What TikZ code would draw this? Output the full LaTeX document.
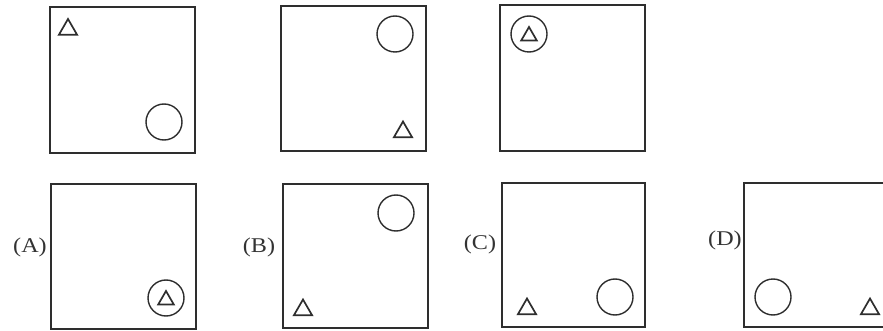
\documentclass[tikz,border=0pt]{standalone}
\usepackage{fontspec}
\setmainfont{Liberation Serif}
\usetikzlibrary{shapes.geometric}
\definecolor{ink}{HTML}{2E2E2E}
\definecolor{txt}{HTML}{333333}
\tikzset{
  panel/.style={draw=ink, line width=1.8pt},
  ring/.style={circle, draw=ink, line width=1.4pt, minimum size=36pt, inner sep=0pt},
  tri/.style={regular polygon, regular polygon sides=3, draw=ink, line width=1.7pt, minimum size=21pt, inner sep=0pt},
  smalltri/.style={regular polygon, regular polygon sides=3, draw=ink, line width=1.7pt, minimum size=18pt, inner sep=0pt},
  lab/.style={text=txt, font=\fontsize{21}{23}\selectfont, xscale=1.15, inner sep=0pt}
}
\begin{document}
\begin{tikzpicture}[x=1pt,y=-1pt]
\useasboundingbox (0,0) rectangle (883,331);
\clip (0,0) rectangle (883,331);
% top row
\node[panel, minimum width=145pt, minimum height=146pt, anchor=north west, inner sep=0pt] (p1) at (49,6) {};
\node[tri] (p1t) at (68,29.5) {};
\node[ring] (p1c) at (164,122) {};

\node[panel, minimum width=145pt, minimum height=145pt, anchor=north west, inner sep=0pt] (p2) at (280,5) {};
\node[ring] (p2c) at (395,34) {};
\node[tri] (p2t) at (403,132) {};

\node[panel, minimum width=145pt, minimum height=146pt, anchor=north west, inner sep=0pt] (p3) at (499,4) {};
\node[ring] (p3c) at (529,34) {};
\node[smalltri] (p3t) at (529,36) {};

% bottom row
\node[panel, minimum width=145pt, minimum height=145pt, anchor=north west, inner sep=0pt] (pa) at (50,183) {};
\node[lab] (la) at (30,247) {(A)};
\node[ring] (pac) at (166,298) {};
\node[smalltri] (pat) at (166,300) {};

\node[panel, minimum width=145pt, minimum height=144pt, anchor=north west, inner sep=0pt] (pb) at (282,183) {};
\node[lab] (lb) at (259,247) {(B)};
\node[ring] (pbc) at (396,213) {};
\node[tri] (pbt) at (303,310) {};

\node[panel, minimum width=143pt, minimum height=144pt, anchor=north west, inner sep=0pt] (pc) at (501,182) {};
\node[lab] (lc) at (480,244) {(C)};
\node[ring] (pcc) at (615,297) {};
\node[tri] (pct) at (527,309) {};

\node[panel, minimum width=160pt, minimum height=144pt, anchor=north west, inner sep=0pt] (pd) at (743,182) {};
\node[lab] (ld) at (725,240) {(D)};
\node[ring] (pdc) at (773,297) {};
\node[tri] (pdt) at (870,309) {};
\end{tikzpicture}
\end{document}
